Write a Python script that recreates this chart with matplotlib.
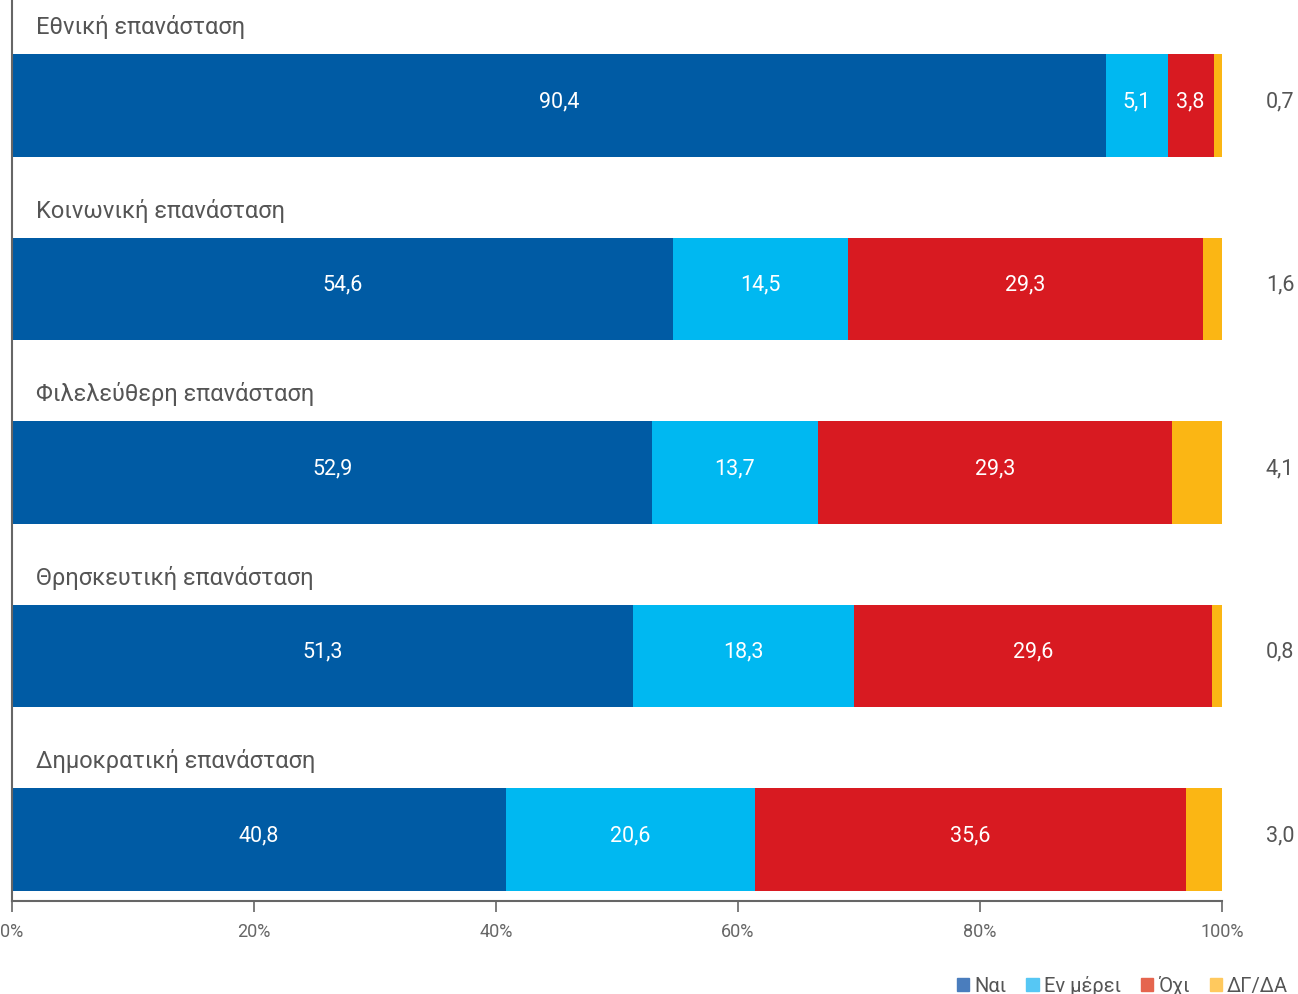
import matplotlib.pyplot as plt
import numpy as np

plt.rcParams['font.family'] = ['Roboto', 'DejaVu Sans']

categories = [
    'Εθνική επανάσταση',
    'Κοινωνική επανάσταση',
    'Φιλελεύθερη επανάσταση',
    'Θρησκευτική επανάσταση',
    'Δημοκρατική επανάσταση',
]
series_names = ['Ναι', 'Εν μέρει', 'Όχι', 'ΔΓ/ΔΑ']
nai = [90.4, 54.6, 52.9, 51.3, 40.8]
en_merei = [5.1, 14.5, 13.7, 18.3, 20.6]
oxi = [3.8, 29.3, 29.3, 29.6, 35.6]
dg_da = [0.7, 1.6, 4.1, 0.8, 3.0]

colors = ['#005BA4', '#00B8F1', '#D81A21', '#FBB614']
legend_colors = ['#4A7DBD', '#56C7F4', '#E5654E', '#FFC95E']

fig = plt.figure(figsize=(12.98, 9.94), dpi=100)
ax = fig.add_axes([12 / 1298, 1 - 901 / 994, 1210 / 1298, 901 / 994])

y = np.arange(len(categories))
bar_h = 0.561
data = [nai, en_merei, oxi, dg_da]
left = np.zeros(len(categories))
for vals, col in zip(data, colors):
    vals = np.array(vals)
    ax.barh(y, vals, left=left, height=bar_h, color=col, edgecolor='none')
    left += vals

# in-bar labels (not for the last series)
left = np.zeros(len(categories))
for vals in data[:3]:
    for i, v in enumerate(vals):
        ax.text(left[i] + v / 2, y[i] - 0.02, f'{v:.1f}'.replace('.', ','),
                ha='center', va='center', color='white', fontsize=15.5)
    left += np.array(vals)

# values of the last series to the right of the bars
for i, v in enumerate(dg_da):
    ax.text(104.8, y[i] - 0.02, f'{v:.1f}'.replace('.', ','), ha='center', va='center',
            color='#555555', fontsize=15.5, clip_on=False)

# category titles above bars
for i, c in enumerate(categories):
    ax.text(2.0, y[i] - bar_h / 2 - 0.145, c, ha='left', va='center',
            color='#555555', fontsize=17)

ax.set_xlim(0, 100)
ax.set_ylim(4.335, -0.575)
ax.set_xticks([0, 20, 40, 60, 80, 100])
ax.set_xticklabels([f'{t}%' for t in [0, 20, 40, 60, 80, 100]])
ax.tick_params(axis='x', colors='#666666', labelsize=13, length=8, width=1.2, pad=8)
ax.tick_params(axis='y', left=False, labelleft=False)
for s in ['top', 'right']:
    ax.spines[s].set_visible(False)
for s in ['left', 'bottom']:
    ax.spines[s].set_color('#666666')
    ax.spines[s].set_linewidth(1.5)

handles = [plt.Rectangle((0, 0), 1, 1, color=c) for c in legend_colors]
fig.legend(handles, series_names, loc='lower right', bbox_to_anchor=(1.0, -0.012),
           ncol=4, frameon=False, fontsize=14.5, handlelength=0.6, handleheight=0.6,
           handletextpad=0.25, columnspacing=1.0, labelcolor='#555555',
           borderaxespad=0.1)

fig.savefig('out.png', dpi=100)
